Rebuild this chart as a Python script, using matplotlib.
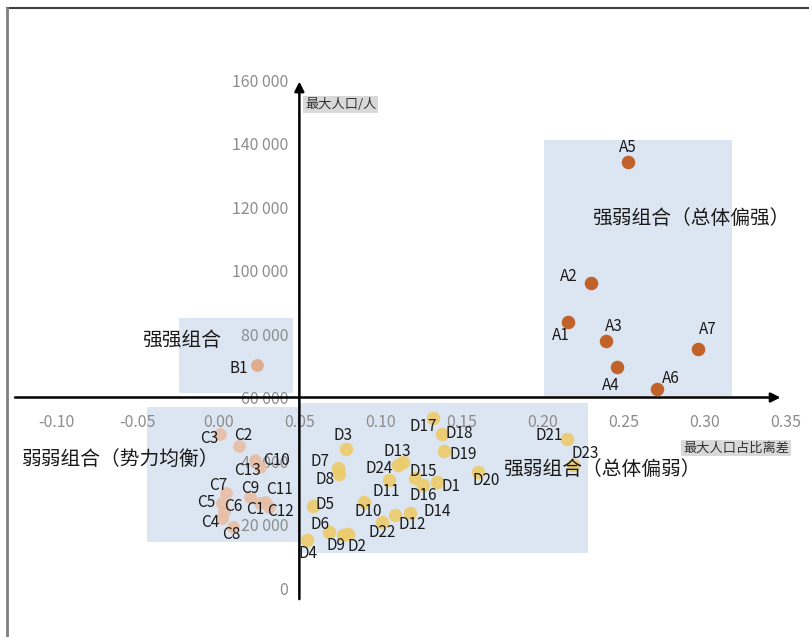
import matplotlib
matplotlib.use("Agg")
import matplotlib.pyplot as plt
from matplotlib.patches import Rectangle
from matplotlib.lines import Line2D
from matplotlib.ticker import FuncFormatter

plt.rcParams['font.family'] = ['Noto Sans CJK SC', 'DejaVu Sans']

# ------------------------
# Data
# ------------------------
a_names = ['A1', 'A2', 'A3', 'A4', 'A5', 'A6', 'A7']
a_x = [0.216, 0.230, 0.239, 0.246, 0.253, 0.271, 0.296]
a_y = [83800, 96100, 77800, 69600, 134200, 62600, 75300]

b_names = ['B1']
b_x = [0.024]
b_y = [70200]

c_names = ['C1', 'C2', 'C3', 'C4', 'C5', 'C6', 'C7', 'C8', 'C9', 'C10', 'C11', 'C12', 'C13']
c_x = [0.026, 0.013, 0.001, 0.002, 0.002, 0.0035, 0.005, 0.0093, 0.0196, 0.0257, 0.0288, 0.031, 0.0227]
c_y = [26800, 44700, 48500, 22000, 26800, 24300, 29800, 19300, 28800, 38200, 27200, 25600, 40300]

d_names = ['D1', 'D2', 'D3', 'D4', 'D5', 'D6', 'D7', 'D8', 'D9', 'D10', 'D11', 'D12',
           'D13', 'D14', 'D15', 'D16', 'D17', 'D18', 'D19', 'D20', 'D21', 'D22', 'D23', 'D24']
d_x = [0.1348, 0.080, 0.0786, 0.0546, 0.0586, 0.068, 0.0741, 0.0747, 0.0769, 0.0896, 0.1056, 0.109,
       0.1142, 0.1183, 0.1214, 0.1265, 0.1323, 0.1379, 0.1393, 0.1605, 0.2151, 0.1009, 0.2191, 0.1111]
d_y = [33500, 16900, 43700, 15100, 25900, 17700, 37700, 35900, 16700, 27200, 34000, 23000,
       39800, 23500, 34600, 32400, 53400, 48400, 43200, 36600, 46800, 20900, 38700, 38700]

x_ticks = [-0.10, -0.05, 0.00, 0.05, 0.10, 0.15, 0.20, 0.25, 0.30, 0.35]
y_ticks = [0, 20000, 40000, 60000, 80000, 100000, 120000, 140000, 160000]

# region boxes: (x0, x1, y0, y1)
region_a = (0.201, 0.317, 60500, 141100)
region_b = (-0.024, 0.046, 61400, 85000)
region_c = (-0.044, 0.049, 14500, 57000)
region_d = (0.049, 0.228, 11000, 58300)

# label offsets in pixels (dx, dy)
label_offsets = {
    'A1': (-7, -14), 'A2': (-22, 6), 'A3': (8, 14), 'A4': (-6, -18), 'A5': (0, 14),
    'A6': (13, 11), 'A7': (10, 19), 'B1': (-18, -3),
    'C1': (-5, -7), 'C2': (4, 11), 'C3': (-11, -4), 'C4': (-11, -4), 'C5': (-15, 0),
    'C6': (9, 4), 'C7': (-8, 8), 'C8': (-2, -8), 'C9': (0, 8), 'C10': (16, 6),
    'C11': (14, 12), 'C12': (12, -5), 'C13': (-8, -10),
    'D1': (14, -5), 'D2': (9, -12), 'D3': (-3, 14), 'D4': (1, -13), 'D5': (12, 1),
    'D6': (-9, 7), 'D7': (-18, 7), 'D8': (-14, -5), 'D9': (-7, -11), 'D10': (5, -10),
    'D11': (-3, -11), 'D12': (17, -10), 'D13': (-6, 10), 'D14': (27, 2), 'D15': (8, 7),
    'D16': (0, -10), 'D17': (-9, -8), 'D18': (18, 1), 'D19': (19, -4), 'D20': (8, -9),
    'D21': (-18, 4), 'D22': (0, -11), 'D23': (12, 12), 'D24': (-19, -3),
}

# ------------------------
# Figure
# ------------------------
fig = plt.figure(figsize=(8.09, 6.37), dpi=100)
ax = fig.add_axes([0, 0, 1, 1])
ax.set_xlim(-0.1348, 0.3646)
ax.set_ylim(-15433, 185197)

box_color = '#DCE6F2'
for x0, x1, y0, y1 in [region_a, region_b, region_c, region_d]:
    ax.add_patch(Rectangle((x0, y0), x1 - x0, y1 - y0, facecolor=box_color,
                           edgecolor='none', zorder=0))

# axes through (0.05, 60000)
for s in ['top', 'right']:
    ax.spines[s].set_visible(False)
ax.spines['left'].set_position(('data', 0.05))
ax.spines['bottom'].set_position(('data', 60000))
ax.spines['left'].set_visible(False)
ax.spines['bottom'].set_visible(False)

ax.annotate('', xy=(0.05, 159500), xytext=(0.05, -3500),
            arrowprops=dict(arrowstyle='-|>', color='black', lw=1.8,
                            mutation_scale=14, shrinkA=0, shrinkB=0), zorder=3)
ax.annotate('', xy=(0.347, 60000), xytext=(-0.1255, 60000),
            arrowprops=dict(arrowstyle='-|>', color='black', lw=1.8,
                            mutation_scale=14, shrinkA=0, shrinkB=0), zorder=3)

ax.set_xticks(x_ticks)
ax.set_yticks(y_ticks)
ax.xaxis.set_major_formatter(FuncFormatter(lambda v, p: f"{v:.2f}".replace("-0.00", "0.00")))
ax.yaxis.set_major_formatter(FuncFormatter(lambda v, p: f"{int(round(v)):,}".replace(",", " ")))
ax.tick_params(axis='both', length=0, labelcolor='#8C8C8C', labelsize=11.5)
ax.tick_params(axis='x', pad=12)
ax.tick_params(axis='y', pad=8)

# points
ax.scatter(a_x, a_y, s=95, color='#C2622B', zorder=4, linewidths=0)
ax.scatter(b_x, b_y, s=85, color='#E0AC8E', zorder=4, linewidths=0)
ax.scatter(c_x, c_y, s=85, color='#E8BEA6', alpha=0.9, zorder=4, linewidths=0)
ax.scatter(d_x, d_y, s=95, color='#EDCB6A', alpha=0.9, zorder=4, linewidths=0)

for names, xs, ys in [(a_names, a_x, a_y), (b_names, b_x, b_y),
                      (c_names, c_x, c_y), (d_names, d_x, d_y)]:
    for n, x, y in zip(names, xs, ys):
        ax.annotate(n, (x, y), xytext=label_offsets[n], textcoords='offset pixels',
                    ha='center', va='center', fontsize=11, color='#1A1A1A', zorder=5)

# region titles
ax.text(-0.023, 78100, '强强组合', fontsize=14.2, color='#1A1A1A', ha='center', va='center', zorder=5)
ax.text(-0.1212, 40600, '弱弱组合（势力均衡）', fontsize=14.2, color='#1A1A1A', ha='left', va='center', zorder=5)
ax.text(0.2307, 116500, '强弱组合（总体偏强）', fontsize=14.2, color='#1A1A1A', ha='left', va='center', zorder=5)
ax.text(0.1757, 37200, '强弱组合（总体偏弱）', fontsize=14.2, color='#1A1A1A', ha='left', va='center', zorder=5)

# axis titles
title_box = dict(boxstyle='square,pad=0.15', facecolor='#D9D9D9', edgecolor='none')
ax.text(0.0535, 152400, '最大人口/人', fontsize=9.5, color='#333333', ha='left', va='center',
        bbox=title_box, zorder=5)
ax.text(0.3195, 44100, '最大人口占比离差', fontsize=9.5, color='#333333', ha='center', va='center',
        bbox=title_box, zorder=5)

# frame lines of the original picture
fig.add_artist(Line2D([7 / 809, 1], [1 - 8 / 637, 1 - 8 / 637], color='#404040', lw=1.5))
fig.add_artist(Line2D([7 / 809, 7 / 809], [0, 1 - 8 / 637], color='#808080', lw=2))

fig.savefig('out.png', dpi=100)
